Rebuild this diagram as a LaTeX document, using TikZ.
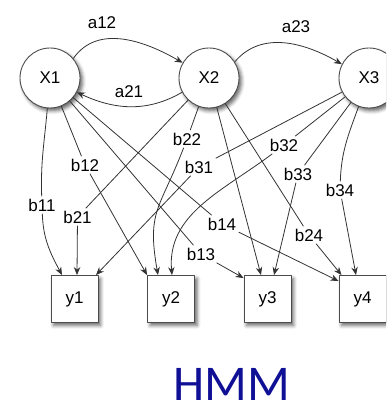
\documentclass[tikz,border=0pt]{standalone}
\usepackage{fontspec}
\newfontfamily\lblfont{Liberation Sans}
\newfontfamily\titlefont{Carlito}
\usepackage{xcolor}
\usetikzlibrary{arrows.meta,shadows.blur}
\definecolor{hmmblue}{RGB}{16,16,150}
\tikzset{
  state/.style={circle, draw=black!70, line width=0.9pt, fill=white, minimum size=60pt, inner sep=0pt,
    font=\lblfont\fontsize{17}{20}\selectfont,
    blur shadow={shadow xshift=2.5pt, shadow yshift=-3pt, shadow blur radius=3.5pt, shadow opacity=60}},
  obs/.style={rectangle, draw=black!70, line width=0.9pt, fill=white, minimum size=47pt, inner sep=0pt,
    font=\lblfont\fontsize{17}{20}\selectfont,
    blur shadow={shadow xshift=2.5pt, shadow yshift=-3pt, shadow blur radius=3.5pt, shadow opacity=60}},
  prob/.style={inner sep=2.5pt, font=\lblfont\fontsize{17}{20}\selectfont},
  trans/.style={draw=black!80, line width=0.8pt, -{Stealth[length=8pt,width=6.5pt]}},
  every picture/.style={line cap=round, line join=round}
}

\begin{document}
\begin{tikzpicture}[x=1pt,y=1pt]
  \clip (0,0) rectangle (386,406);
  % hidden states
  \node[state] (X1) at (50,328) {X1};
  \node[state] (X2) at (209,328) {X2};
  \node[state] (X3) at (369,328) {X3};

  % observations
  \node[obs] (y1) at (74.5,107) {y1};
  \node[obs] (y2) at (171,107) {y2};
  \node[obs] (y3) at (267.5,107) {y3};
  \node[obs] (y4) at (362.5,107) {y4};

  % probabilities
  \node[prob] (a12) at (102,383) {a12};
  \node[prob] (a21) at (129,314) {a21};
  \node[prob] (a23) at (296,379) {a23};
  \node[prob] (b11) at (42,201) {b11};
  \node[prob] (b12) at (85,241) {b12};
  \node[prob] (b13) at (201,152) {b13};
  \node[prob] (b14) at (222,182) {b14};
  \node[prob] (b21) at (77.5,189) {b21};
  \node[prob] (b22) at (187,267) {b22};
  \node[prob] (b24) at (309,171) {b24};
  \node[prob] (b31) at (199,239) {b31};
  \node[prob] (b32) at (284,261) {b32};
  \node[prob] (b33) at (298,232) {b33};
  \node[prob] (b34) at (340,216) {b34};

  % transitions
  \draw[trans] (X1.40) to[out=55,in=150] (X2.150);
  \draw[trans] (X2.208) to[out=210,in=-25] (X1.-28);
  \draw[trans] (X2.32) to[out=50,in=150] (X3.153);

  % emissions from X1
  \draw[trans] (X1) to[out=-95,in=92] (b11) to[out=-88,in=118] ([xshift=-12.5pt]y1.north);
  \draw[trans] (X1) -- (b12) -- (y2.north west);
  \draw[trans] (X1) -- (b13) -- ([yshift=-3pt]y3.north west);
  \draw[trans] (X1) -- (b14) -- ([yshift=-6pt]y4.north west);
  % emissions from X2
  \draw[trans] (X2) -- (b21) -- ([xshift=2.5pt]y1.north);
  \draw[trans] (X2) -- (b22) to[out=-111,in=100,looseness=1.3] ([xshift=-13pt]y2.north);
  \draw[trans] (X2) -- ([xshift=-6.5pt]y3.north);
  \draw[trans] (X2) -- (b24) -- ([xshift=-21pt]y4.north);
  % emissions from X3
  \draw[trans] (X3) -- (b31) -- ([xshift=21.5pt]y1.north);
  \draw[trans] (X3) -- (b32) to[out=-143,in=95] ([xshift=1pt]y2.north);
  \draw[trans] (X3) -- (b33) -- ([xshift=6.5pt]y3.north);
  \draw[trans] (X3) to[out=-110,in=88] (b34) -- ([xshift=-6.5pt]y4.north);

  \node[text=hmmblue, inner sep=0pt, font=\titlefont\fontsize{50}{60}\selectfont] (title) at (232,22) {HMM};
\end{tikzpicture}
\end{document}
